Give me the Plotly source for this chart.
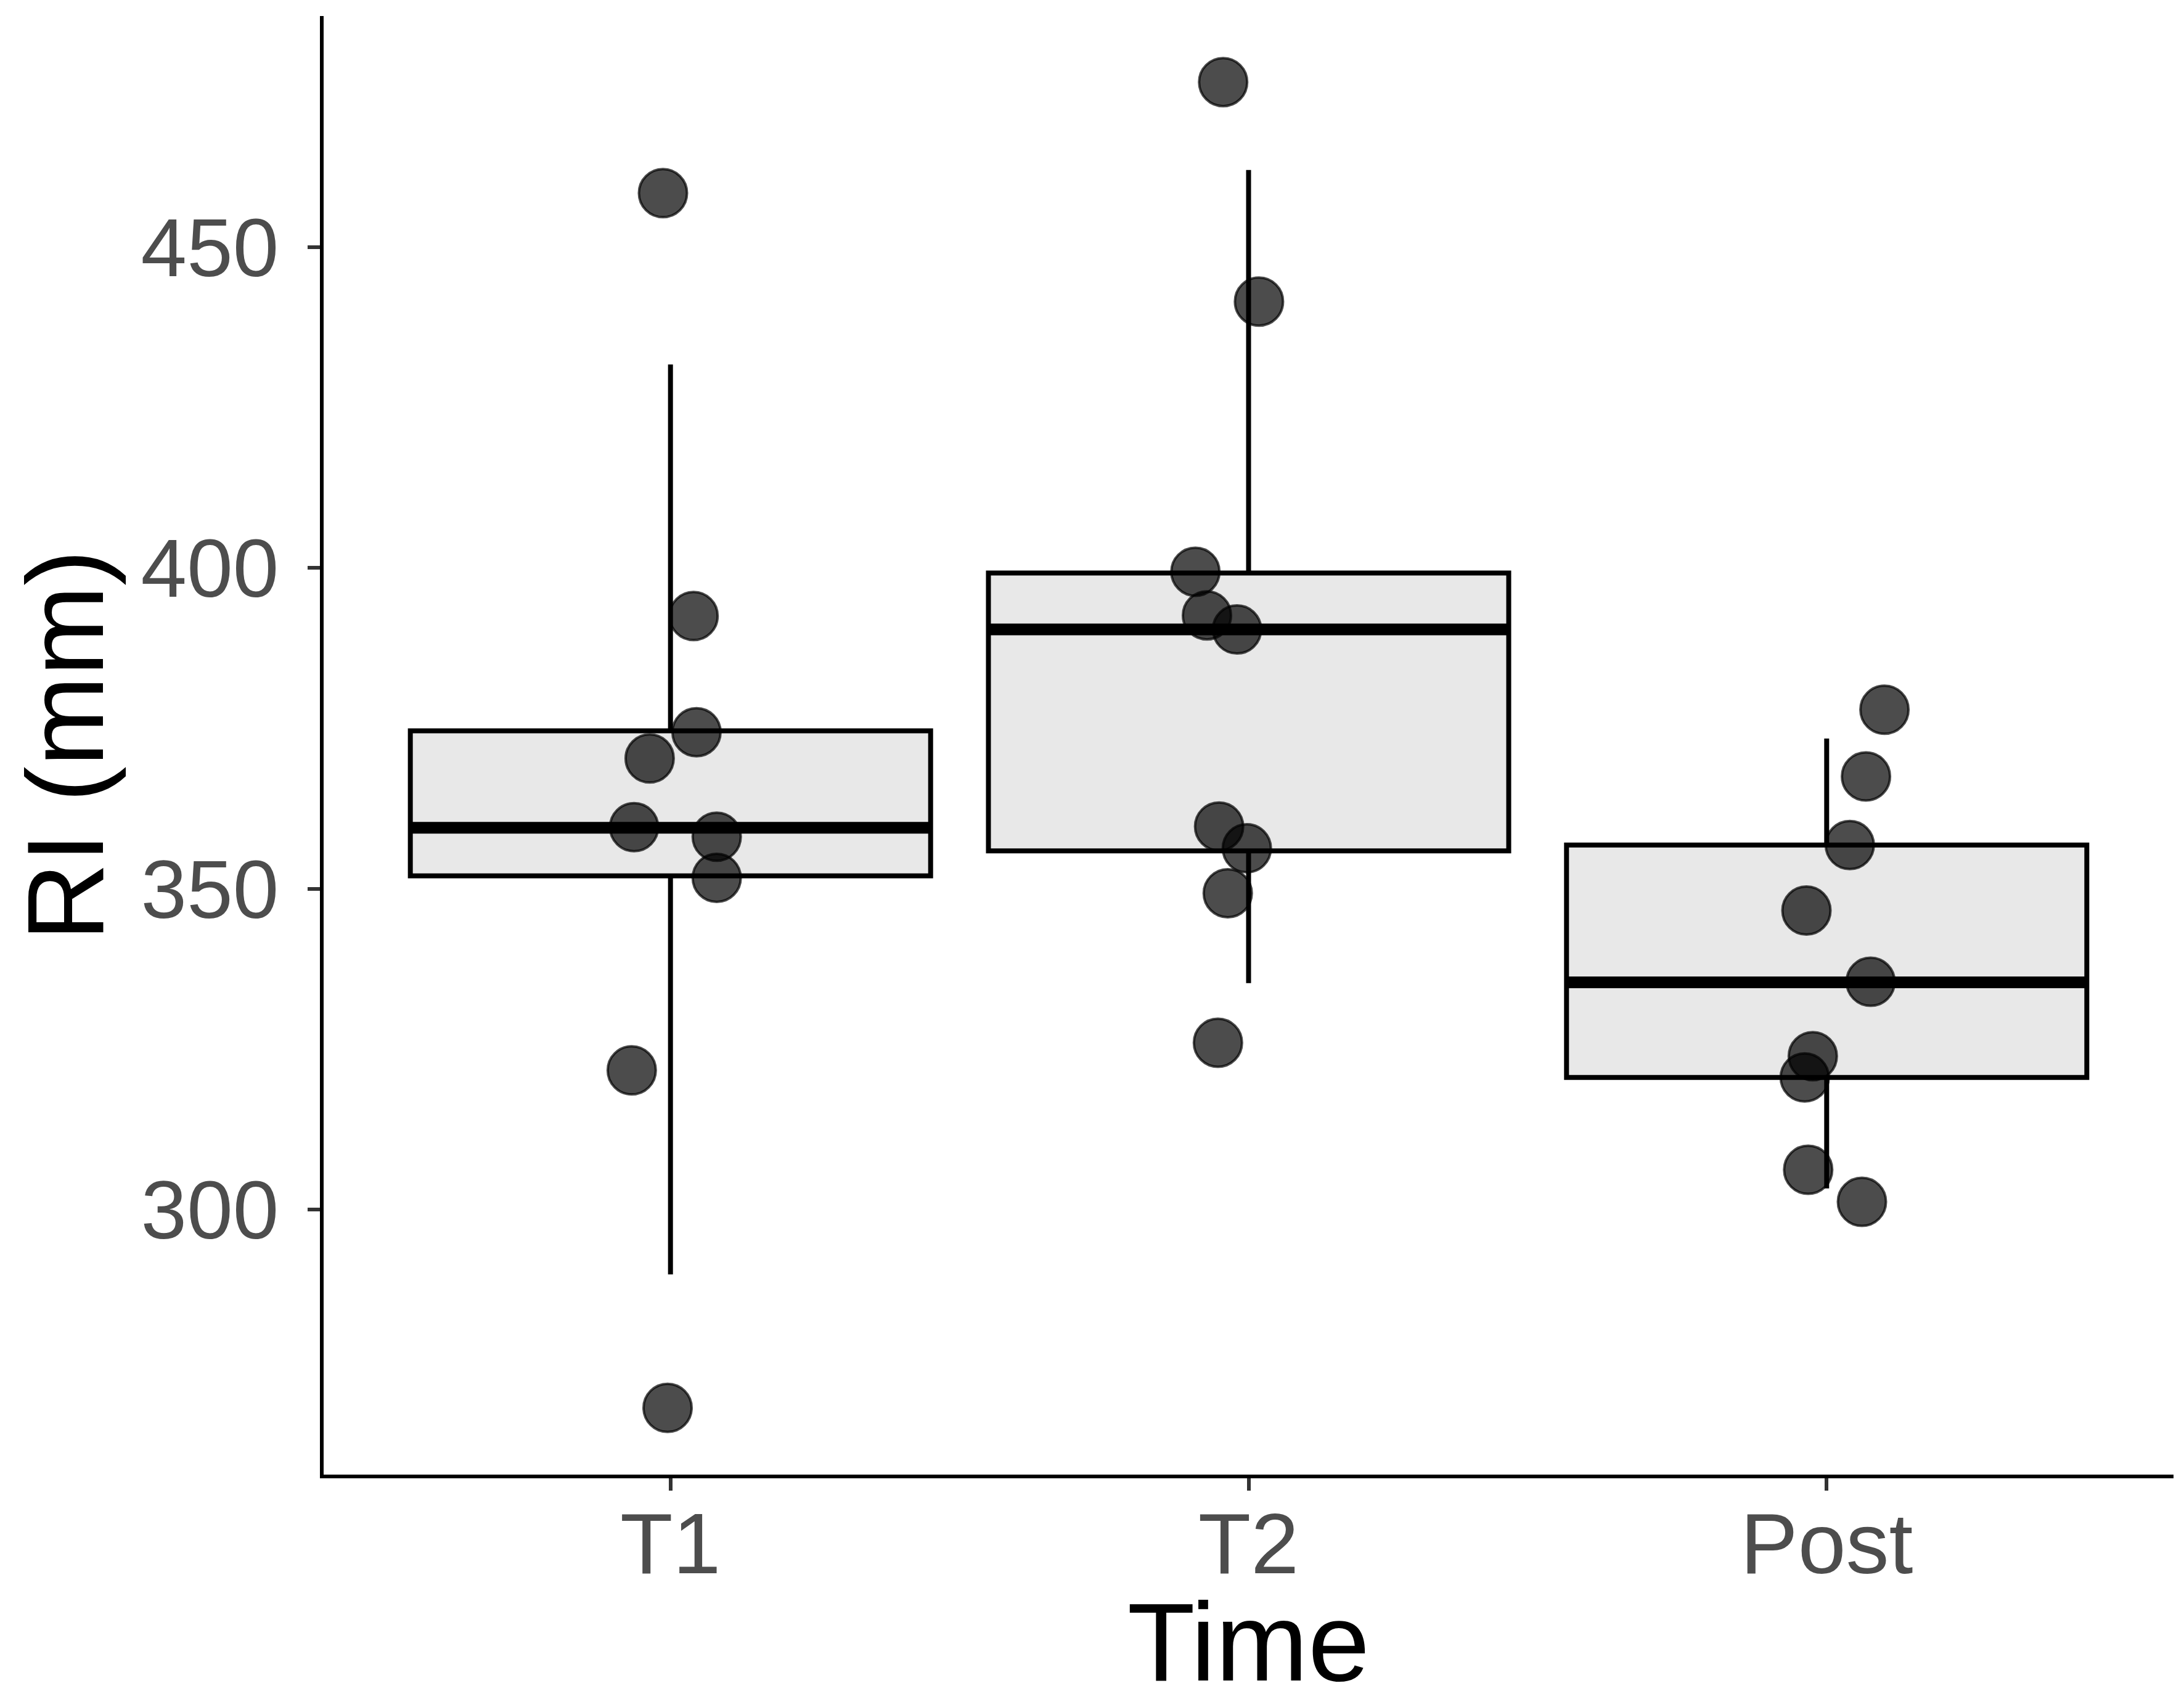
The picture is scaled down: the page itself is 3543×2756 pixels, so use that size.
import plotly.graph_objects as go

# groups on the x axis
times = ["T1", "T2", "Post"]

# box statistics
q1 = [352.0, 355.9, 320.6]
median = [359.5, 390.4, 335.4]
q3 = [374.6, 399.2, 356.8]
lower = [289.9, 335.3, 303.3]
upper = [431.7, 462.0, 373.4]

# individual observations (RI, mm) and their horizontal jitter
t1_vals = [458.4, 392.5, 374.4, 370.3, 359.6, 358.1, 351.7, 321.7, 269.1]
t1_jit = [-0.013, 0.040, 0.045, -0.036, -0.063, 0.080, 0.080, -0.067, -0.005]
t2_vals = [475.7, 441.5, 399.4, 392.6, 390.4, 359.7, 356.3, 349.3, 326.0]
t2_jit = [-0.044, 0.018, -0.092, -0.072, -0.020, -0.051, -0.003, -0.036, -0.053]
post_vals = [377.9, 367.5, 356.8, 346.6, 335.5, 323.9, 320.6, 306.2, 301.2]
post_jit = [0.100, 0.068, 0.040, -0.035, 0.076, -0.024, -0.038, -0.032, 0.061]

points = [(t1_vals, t1_jit), (t2_vals, t2_jit), (post_vals, post_jit)]

BOX_W = 0.9
FONT = "Liberation Sans"

fig = go.Figure()

for i, name in enumerate(times):
    fig.add_trace(go.Box(
        x=[i], q1=[q1[i]], median=[median[i]], q3=[q3[i]],
        lowerfence=[lower[i]], upperfence=[upper[i]],
        width=BOX_W, whiskerwidth=0, boxpoints=False,
        fillcolor="#E8E8E8", line=dict(color="black", width=8),
        name=name, showlegend=False,
    ))
    # thicker median line, like ggplot
    fig.add_trace(go.Scatter(
        x=[i - BOX_W / 2, i + BOX_W / 2], y=[median[i], median[i]],
        mode="lines", line=dict(color="black", width=19),
        showlegend=False, hoverinfo="skip",
    ))

for i, (vals, jit) in enumerate(points):
    fig.add_trace(go.Scatter(
        x=[i + j for j in jit], y=vals, mode="markers",
        marker=dict(size=78, color="rgba(0,0,0,0.7)",
                    line=dict(color="rgba(0,0,0,0.7)", width=4)),
        showlegend=False,
    ))

axis_common = dict(
    showline=True, linecolor="black", linewidth=6,
    ticks="outside", ticklen=20, tickwidth=6, tickcolor="#333333",
    showgrid=False, zeroline=False,
)

fig.update_layout(
    width=3543, height=2756,
    margin=dict(l=517, r=25, t=18, b=361),
    plot_bgcolor="white", paper_bgcolor="white",
    xaxis=dict(
        range=[-0.6, 2.6], tickvals=[0, 1, 2], ticktext=times,
        ticklabelstandoff=-34,
        tickfont=dict(family=FONT, size=140, color="#4D4D4D"),
        title=dict(text="Time", font=dict(family=FONT, size=180, color="black"), standoff=44),
        **axis_common,
    ),
    yaxis=dict(
        range=[258.7, 486.0], tickvals=[300, 350, 400, 450],
        ticklabelstandoff=20,
        tickfont=dict(family=FONT, size=134, color="#4D4D4D"),
        title=dict(text="RI (mm)", font=dict(family=FONT, size=176, color="black"), standoff=68),
        **axis_common,
    ),
)

fig.write_html("out.html")
